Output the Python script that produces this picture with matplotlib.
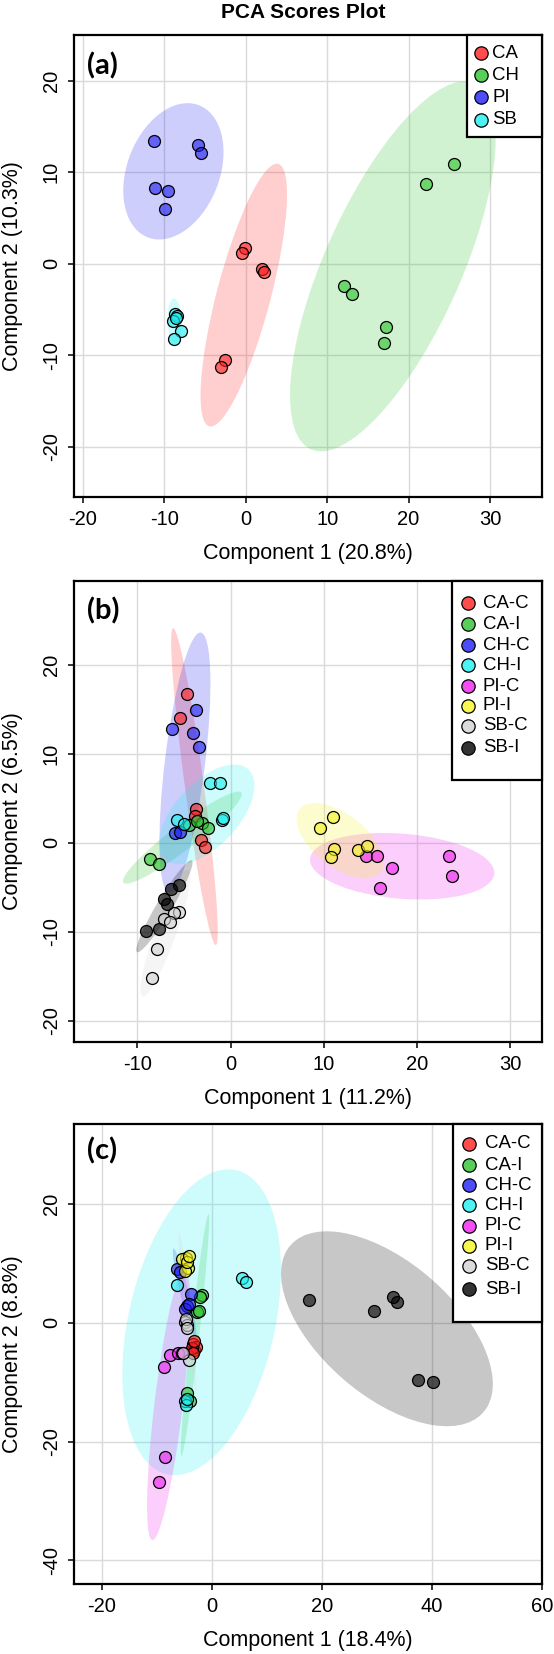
import numpy as np
import matplotlib
matplotlib.use('Agg')
import matplotlib.pyplot as plt
from matplotlib.patches import Circle, Rectangle
from matplotlib.transforms import Affine2D
from matplotlib.colors import to_rgba

plt.rcParams['font.family'] = ['Liberation Sans', 'DejaVu Sans']
plt.rcParams['axes.unicode_minus'] = False

W, H = 554, 1654

# colours
RED, GREEN, BLUE, CYAN = '#ff2020', '#2ec42e', '#2020f5', '#20f0f0'
MAG, YEL, LGRAY, BLACK = '#f020f0', '#f5f520', '#d3d3d3', '#000000'

# ---- panel (a) ----
a_groups = ['CA', 'CH', 'PI', 'SB']
a_colors = [RED, GREEN, BLUE, CYAN]
a_x = [[-0.1, -0.5, 2.0, 2.2, -2.5, -3.1],
       [25.6, 22.2, 12.1, 13.0, 17.2, 17.0],
       [-11.3, -5.85, -5.55, -11.1, -9.6, -9.9],
       [-8.7, -8.5, -8.9, -8.0, -8.8, -8.6]]
a_y = [[1.7, 1.2, -0.6, -0.9, -10.5, -11.3],
       [10.9, 8.7, -2.45, -3.35, -6.9, -8.7],
       [13.4, 13.0, 12.1, 8.25, 7.9, 6.0],
       [-5.5, -5.7, -6.3, -7.4, -8.2, -5.9]]
# ellipse: centre x, centre y, semi-axis u (x, y), semi-axis v (x, y)
a_ell = [(-0.24, -3.43, 4.22, 14.35, -3.23, 0.67),
         (18.08, -0.29, 9.96, 20.04, -7.78, 2.74),
         (-8.89, 10.1, 2.93, 7.29, -5.42, 1.54),
         (-8.72, -6.34, -0.1, 2.55, -0.87, -0.03)]

# ---- panel (b) ----
bc_groups = ['CA-C', 'CA-I', 'CH-C', 'CH-I', 'PI-C', 'PI-I', 'SB-C', 'SB-I']
bc_colors = [RED, GREEN, BLUE, CYAN, MAG, YEL, LGRAY, BLACK]
b_x = [[-4.7, -5.4, -3.75, -3.8, -3.2, -2.75],
       [-8.7, -7.65, -3.1, -2.45, -4.5, -3.6],
       [-6.3, -3.7, -4.0, -3.4, -6.0, -5.4],
       [-2.2, -1.1, -5.8, -5.0, -0.9, -0.85],
       [14.5, 15.7, 17.35, 16.0, 23.4, 23.7],
       [11.0, 9.55, 11.05, 10.8, 13.65, 14.65],
       [-5.5, -6.05, -7.1, -6.45, -7.85, -8.4],
       [-5.5, -6.35, -7.1, -6.8, -9.1, -7.65]]
b_y = [[16.7, 14.0, 3.8, 3.0, 0.3, -0.5],
       [-1.8, -2.4, 2.25, 1.7, 1.95, 2.4],
       [12.8, 14.9, 12.3, 10.8, 1.1, 1.2],
       [6.7, 6.75, 2.55, 2.1, 2.5, 2.8],
       [-1.45, -1.45, -2.85, -5.1, -1.45, -3.75],
       [2.9, 1.7, -0.7, -1.65, -0.8, -0.35],
       [-7.8, -7.85, -8.55, -8.9, -12.0, -15.25],
       [-4.75, -5.2, -6.3, -6.85, -9.9, -9.75]]
b_ell = [(-3.88, 6.3, -2.29, 17.8, 1.01, 0.13),
         (-5.18, 0.56, 6.33, 5.06, -0.80, 1.10),
         (-4.9, 9.0, 1.7, 14.6, -2.14, 0.30),
         (-2.57, 3.18, 4.48, 5.04, -2.48, 2.43),
         (18.4, -2.65, 9.88, -0.85, 0.32, 3.64),
         (11.74, 0.22, 4.27, -3.64, 1.91, 2.17),
         (-7.0, -10.2, 2.46, 7.1, -1.07, 0.36),
         (-7.1, -7.15, 2.93, 5.15, -0.73, 0.40)]

# ---- panel (c) ----
c_x = [[-3.5, -3.3, -3.0, -3.7, -3.2, -3.4],
       [-1.8, -2.2, -2.7, -2.3, -4.55, -3.95],
       [-6.4, -5.9, -3.8, -4.6, -5.0, -4.2],
       [5.4, 6.2, -6.4, -5.0, -4.8, -4.5],
       [-7.7, -8.7, -6.1, -5.5, -8.6, -9.6],
       [-4.8, -5.4, -4.4, -5.0, -4.6, -4.2],
       [-5.0, -4.5, -4.8, -4.2, -5.3, -4.6],
       [17.6, 29.5, 32.9, 33.6, 37.4, 40.1]]
c_y = [[-3.5, -4.5, -4.0, -4.2, -3.0, -5.0],
       [4.65, 4.4, 1.75, 2.0, -11.9, -13.2],
       [9.0, 8.6, 4.9, 2.8, 2.4, 3.2],
       [7.6, 6.9, 6.3, -13.1, -13.8, -12.8],
       [-5.5, -7.5, -5.0, -5.0, -22.6, -26.8],
       [11.0, 10.7, 9.3, 8.7, 10.2, 11.2],
       [0.2, -0.3, 0.6, -6.3, -5.1, -0.8],
       [3.9, 1.95, 4.4, 3.5, -9.6, -9.95]]
c_ell = [(-3.4, -4.0, 0.3, 1.2, -0.4, 0.05),
         (-3.1, -2.05, 2.47, 20.35, -0.76, 0.10),
         (-5.0, 5.0, -2.0, 7.5, 0.74, 0.21),
         (-1.89, 0.1, 6.76, 25.5, -12.74, 3.69),
         (-7.9, -13.8, 2.97, 22.8, -2.55, 0.36),
         (-4.8, 10.0, 0.3, 1.5, -0.6, 0.05),
         (-4.45, 1.95, -1.55, 13.45, 0.51, 0.065),
         (31.8, -1.0, 18.15, -13.3, 6.45, 9.63)]


def px(x, y):
    return x / W, 1 - y / H


def draw_panel(ax, groups, colors, xs, ys, ells, xlim, ylim, xticks, yticks,
               xlab, ylab, tag, tag_y):
    for (cx, cy, ux, uy, vx, vy), col in zip(ells, colors):
        t = Affine2D(np.array([[ux, vx, cx], [uy, vy, cy], [0, 0, 1]])) + ax.transData
        ax.add_patch(Circle((0, 0), 1, transform=t, facecolor=col, alpha=0.22,
                            edgecolor='none', zorder=1))
    for x, y, col in zip(xs, ys, colors):
        ax.scatter(x, y, s=74, facecolor=to_rgba(col, 0.62), edgecolor='black',
                   linewidth=0.9, zorder=3)
    ax.set_xlim(xlim)
    ax.set_ylim(ylim)
    ax.set_xticks(xticks)
    ax.set_yticks(yticks)
    ax.grid(color='#dadada', linewidth=1.0)
    ax.set_axisbelow(True)
    for s in ax.spines.values():
        s.set_linewidth(1.6)
    ax.tick_params(direction='out', length=4.5, width=1.1, labelsize=14.5, pad=5)
    for lbl in ax.get_yticklabels():
        lbl.set_rotation(90)
        lbl.set_va('center')
    ax.set_xlabel(xlab, fontsize=15.5)
    ax.set_ylabel(ylab, fontsize=15.5)
    ax.xaxis.set_label_coords(0.5, -0.10)
    ax.yaxis.set_label_coords(-0.108, 0.5)
    ax.text(0.027, tag_y, tag, transform=ax.transAxes, fontsize=21,
            fontweight='bold', family=['Lato', 'DejaVu Sans'], va='center', ha='left')


def draw_legend(fig, ax, groups, colors, box, ys, mx, tx):
    x0, y0, x1, y1 = box
    fx0, fy1 = px(x0, y1)
    fx1, fy0 = px(x1, y0)
    ax.add_patch(Rectangle((fx0, fy1), fx1 - fx0, fy0 - fy1, transform=fig.transFigure,
                           facecolor='white', edgecolor='black', linewidth=1.6,
                           zorder=5, clip_on=False))
    for g, col, y in zip(groups, colors, ys):
        fx, fy = px(mx, y)
        ax.plot([fx], [fy], 'o', transform=fig.transFigure, ms=9.6,
                mfc=to_rgba(col, 0.8), mec='black', mew=0.9, zorder=6, clip_on=False)
        fx, fy = px(tx, y)
        ax.text(fx, fy, g, transform=fig.transFigure, fontsize=13.4,
                va='center', ha='left', zorder=6)


fig = plt.figure(figsize=(W / 100, H / 100), dpi=100)

ax1 = fig.add_axes([74 / W, 1 - 497 / H, 468 / W, 462 / H])
ax2 = fig.add_axes([74 / W, 1 - 1042 / H, 468 / W, 461 / H])
ax3 = fig.add_axes([74 / W, 1 - 1584 / H, 468 / W, 460 / H])

draw_panel(ax1, a_groups, a_colors, a_x, a_y, a_ell, (-21.1, 36.4), (-25.5, 25.0),
           np.arange(-20, 31, 10), np.arange(-20, 21, 10),
           'Component 1 (20.8%)', 'Component 2 (10.3%)', '(a)', 0.933)
draw_panel(ax2, bc_groups, bc_colors, b_x, b_y, b_ell, (-16.8, 33.4), (-22.4, 29.4),
           np.arange(-10, 31, 10), np.arange(-20, 21, 10),
           'Component 1 (11.2%)', 'Component 2 (6.5%)', '(b)', 0.935)
draw_panel(ax3, bc_groups, bc_colors, c_x, c_y, c_ell, (-25.1, 60.0), (-44.0, 33.5),
           np.arange(-20, 61, 20), np.arange(-40, 21, 20),
           'Component 1 (18.4%)', 'Component 2 (8.8%)', '(c)', 0.941)

draw_legend(fig, ax1, a_groups, a_colors, (467, 35, 542, 137),
            [53, 75, 97, 120], 481, 492)
draw_legend(fig, ax2, bc_groups, bc_colors, (452, 581, 542, 780),
            [603, 624, 645, 665, 686, 706, 726, 748], 468, 483)
draw_legend(fig, ax3, bc_groups, bc_colors, (453, 1124, 542, 1322),
            [1144, 1165, 1185, 1205, 1226, 1246, 1266, 1289], 469, 485)

fig.text(303 / W, 1 - 13 / H, 'PCA Scores Plot', ha='center', va='center',
         fontsize=15, fontweight='bold')

fig.savefig('out.png', dpi=100)
